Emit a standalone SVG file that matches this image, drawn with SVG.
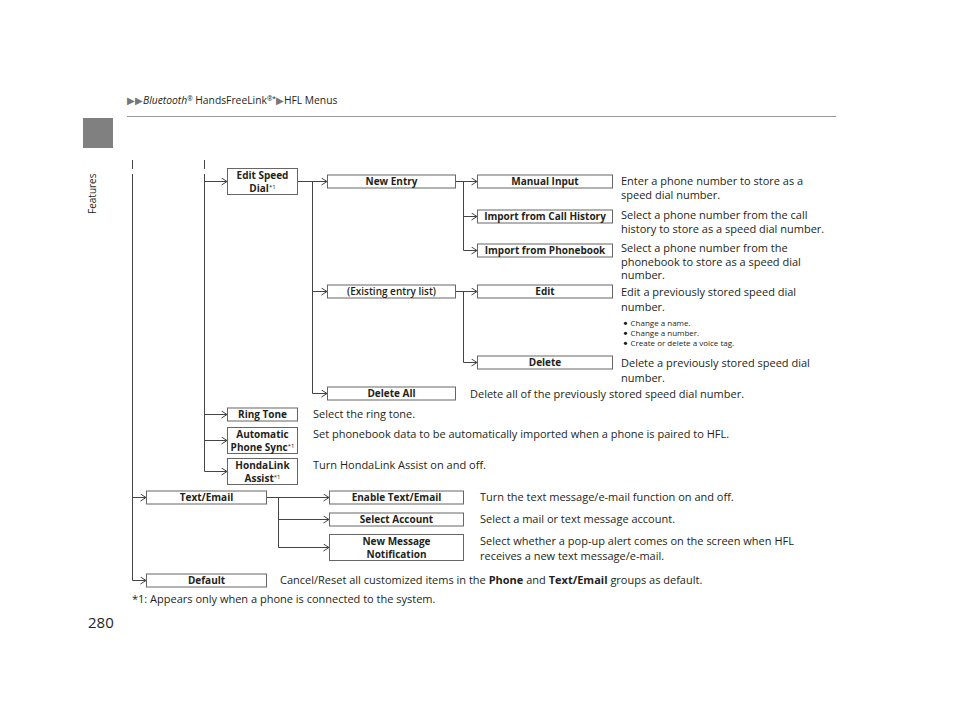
<svg xmlns="http://www.w3.org/2000/svg" width="960" height="722" viewBox="0 0 960 722">
<defs>
<marker id="arr" markerUnits="userSpaceOnUse" markerWidth="8" markerHeight="10" refX="6" refY="4" orient="auto">
<path d="M0.5,0.5 L6,4 L0.5,7.5" fill="none" stroke="#444" stroke-width="1"/>
</marker>
</defs>
<style>
text{font-family:"Open Sans","Noto Sans","Liberation Sans",sans-serif;fill:#231f20}
.box{fill:#fff;stroke:#666;stroke-width:1}
.bl{font-size:10px;font-weight:bold;text-anchor:middle}
.d{font-size:11px}
.s{font-size:8px}
.sup{font-size:6px;font-weight:normal}
.dot{fill:#231f20}
.c{fill:none;stroke:#444;stroke-width:1}
.a{fill:none;stroke:#444;stroke-width:1;marker-end:url(#arr)}
</style>
<rect width="960" height="722" fill="#fff"/>

<g id="header">
<text x="127" y="104" style="font-size:10.3px"><tspan fill="#777">▶▶</tspan><tspan font-style="italic">Bluetooth</tspan><tspan font-size="6.5" dy="-3">®</tspan><tspan dy="3"> HandsFreeLink</tspan><tspan font-size="6.5" dy="-3">®*</tspan><tspan dy="3" fill="#777">▶</tspan><tspan>HFL Menus</tspan></text>
<line x1="127" y1="116.5" x2="836" y2="116.5" stroke="#999" stroke-width="1"/>
</g>
<g id="tab">
<rect x="83" y="118" width="30" height="30" fill="#808080"/>
<text transform="translate(96,214) rotate(-90)" style="font-size:10px" fill="#333">Features</text>
</g>

<g id="connectors">
<line class="c" x1="132.5" y1="160" x2="132.5" y2="169"/>
<line class="c" x1="204.5" y1="160" x2="204.5" y2="169"/>
<path class="c" d="M132.5,174 V580.5"/>
<path class="a" d="M132.5,497.5 H146"/>
<path class="a" d="M132.5,580.5 H146"/>
<path class="c" d="M204.5,174 V471.5"/>
<path class="a" d="M204.5,181.5 H227"/>
<path class="a" d="M204.5,414.5 H227"/>
<path class="a" d="M204.5,440.5 H227"/>
<path class="a" d="M204.5,471.5 H227"/>
<path class="a" d="M297,181.5 H327"/>
<path class="c" d="M312.5,181.5 V393.5"/>
<path class="a" d="M312.5,291.5 H327"/>
<path class="a" d="M312.5,393.5 H327"/>
<path class="a" d="M455,181.5 H477"/>
<path class="c" d="M463.5,181.5 V250.5"/>
<path class="a" d="M463.5,216.5 H477"/>
<path class="a" d="M463.5,250.5 H477"/>
<path class="a" d="M455,291.5 H477"/>
<path class="c" d="M463.5,291.5 V362.5"/>
<path class="a" d="M463.5,362.5 H477"/>
<path class="a" d="M266,497.5 H329"/>
<path class="c" d="M278.5,497.5 V547.5"/>
<path class="a" d="M278.5,519.5 H329"/>
<path class="a" d="M278.5,547.5 H329"/>
</g>

<g id="edit-speed-dial"><rect class="box" x="227.5" y="168.5" width="70" height="26"/><text class="bl" x="262.5" y="178.5">Edit Speed</text><text class="bl" x="262.5" y="191.5">Dial<tspan class="sup" dy="-3">*1</tspan></text></g>
<g id="new-entry"><rect class="box" x="327.5" y="175" width="128" height="13"/><text class="bl" x="391.5" y="185">New Entry</text></g>
<g id="manual-input"><rect class="box" x="477.5" y="175" width="135" height="13"/><text class="bl" x="545" y="185">Manual Input</text></g>
<g id="import-call-history"><rect class="box" x="477.5" y="210" width="135" height="13"/><text class="bl" x="545" y="220">Import from Call History</text></g>
<g id="import-phonebook"><rect class="box" x="477.5" y="244" width="135" height="13"/><text class="bl" x="545" y="254">Import from Phonebook</text></g>
<g id="existing-entry-list"><rect class="box" x="327.5" y="285" width="128" height="13"/><text class="bl" x="391.5" y="295" style="font-weight:600">(Existing entry list)</text></g>
<g id="edit"><rect class="box" x="477.5" y="285" width="135" height="13"/><text class="bl" x="545" y="295">Edit</text></g>
<g id="delete"><rect class="box" x="477.5" y="356" width="135" height="13"/><text class="bl" x="545" y="366">Delete</text></g>
<g id="delete-all"><rect class="box" x="327.5" y="387" width="128" height="13"/><text class="bl" x="391.5" y="397">Delete All</text></g>
<g id="ring-tone"><rect class="box" x="227.5" y="408" width="70" height="13"/><text class="bl" x="262.5" y="418">Ring Tone</text></g>
<g id="automatic-phone-sync"><rect class="box" x="227.5" y="427.5" width="70" height="26"/><text class="bl" x="262.5" y="437.5">Automatic</text><text class="bl" x="262.5" y="450.5">Phone Sync<tspan class="sup" dy="-3">*1</tspan></text></g>
<g id="hondalink-assist"><rect class="box" x="227.5" y="458.5" width="70" height="26"/><text class="bl" x="262.5" y="468.5">HondaLink</text><text class="bl" x="262.5" y="481.5">Assist<tspan class="sup" dy="-3">*1</tspan></text></g>
<g id="text-email"><rect class="box" x="146.5" y="491" width="120" height="13"/><text class="bl" x="206.5" y="501">Text/Email</text></g>
<g id="enable-text-email"><rect class="box" x="329.5" y="491" width="134" height="13"/><text class="bl" x="396.5" y="501">Enable Text/Email</text></g>
<g id="select-account"><rect class="box" x="329.5" y="513" width="134" height="13"/><text class="bl" x="396.5" y="523">Select Account</text></g>
<g id="new-message-notification"><rect class="box" x="329.5" y="534.5" width="134" height="26"/><text class="bl" x="396.5" y="544.5">New Message</text><text class="bl" x="396.5" y="557.5">Notification</text></g>
<g id="default"><rect class="box" x="146.5" y="574" width="120" height="13"/><text class="bl" x="206.5" y="584">Default</text></g>

<g id="descriptions">
<text class="d" x="621" y="185">Enter a phone number to store as a</text>
<text class="d" x="621" y="198.5">speed dial number.</text>
<text class="d" x="621" y="219">Select a phone number from the call</text>
<text class="d" x="621" y="232.5">history to store as a speed dial number.</text>
<text class="d" x="621" y="252">Select a phone number from the</text>
<text class="d" x="621" y="265.5">phonebook to store as a speed dial</text>
<text class="d" x="621" y="279">number.</text>
<text class="d" x="621" y="295.5">Edit a previously stored speed dial</text>
<text class="d" x="621" y="311">number.</text>
<circle class="dot" cx="625.5" cy="323.3" r="1.6"/>
<circle class="dot" cx="625.5" cy="333.3" r="1.6"/>
<circle class="dot" cx="625.5" cy="343.3" r="1.6"/>
<text class="s" x="630.5" y="326">Change a name.</text>
<text class="s" x="630.5" y="336">Change a number.</text>
<text class="s" x="630.5" y="346">Create or delete a voice tag.</text>
<text class="d" x="621" y="367">Delete a previously stored speed dial</text>
<text class="d" x="621" y="382">number.</text>
<text class="d" x="470" y="397.5">Delete all of the previously stored speed dial number.</text>
<text class="d" x="313" y="418">Select the ring tone.</text>
<text class="d" x="313" y="438">Set phonebook data to be automatically imported when a phone is paired to HFL.</text>
<text class="d" x="313" y="469">Turn HondaLink Assist on and off.</text>
<text class="d" x="480" y="501">Turn the text message/e-mail function on and off.</text>
<text class="d" x="480" y="523">Select a mail or text message account.</text>
<text class="d" x="480" y="545">Select whether a pop-up alert comes on the screen when HFL</text>
<text class="d" x="480" y="560">receives a new text message/e-mail.</text>
<text class="d" x="280" y="584">Cancel/Reset all customized items in the <tspan font-weight="bold">Phone</tspan> and <tspan font-weight="bold">Text/Email</tspan> groups as default.</text>
<text class="d" x="132" y="603">*1: Appears only when a phone is connected to the system.</text>
<text x="88" y="628" style="font-size:15px">280</text>
</g>
</svg>
